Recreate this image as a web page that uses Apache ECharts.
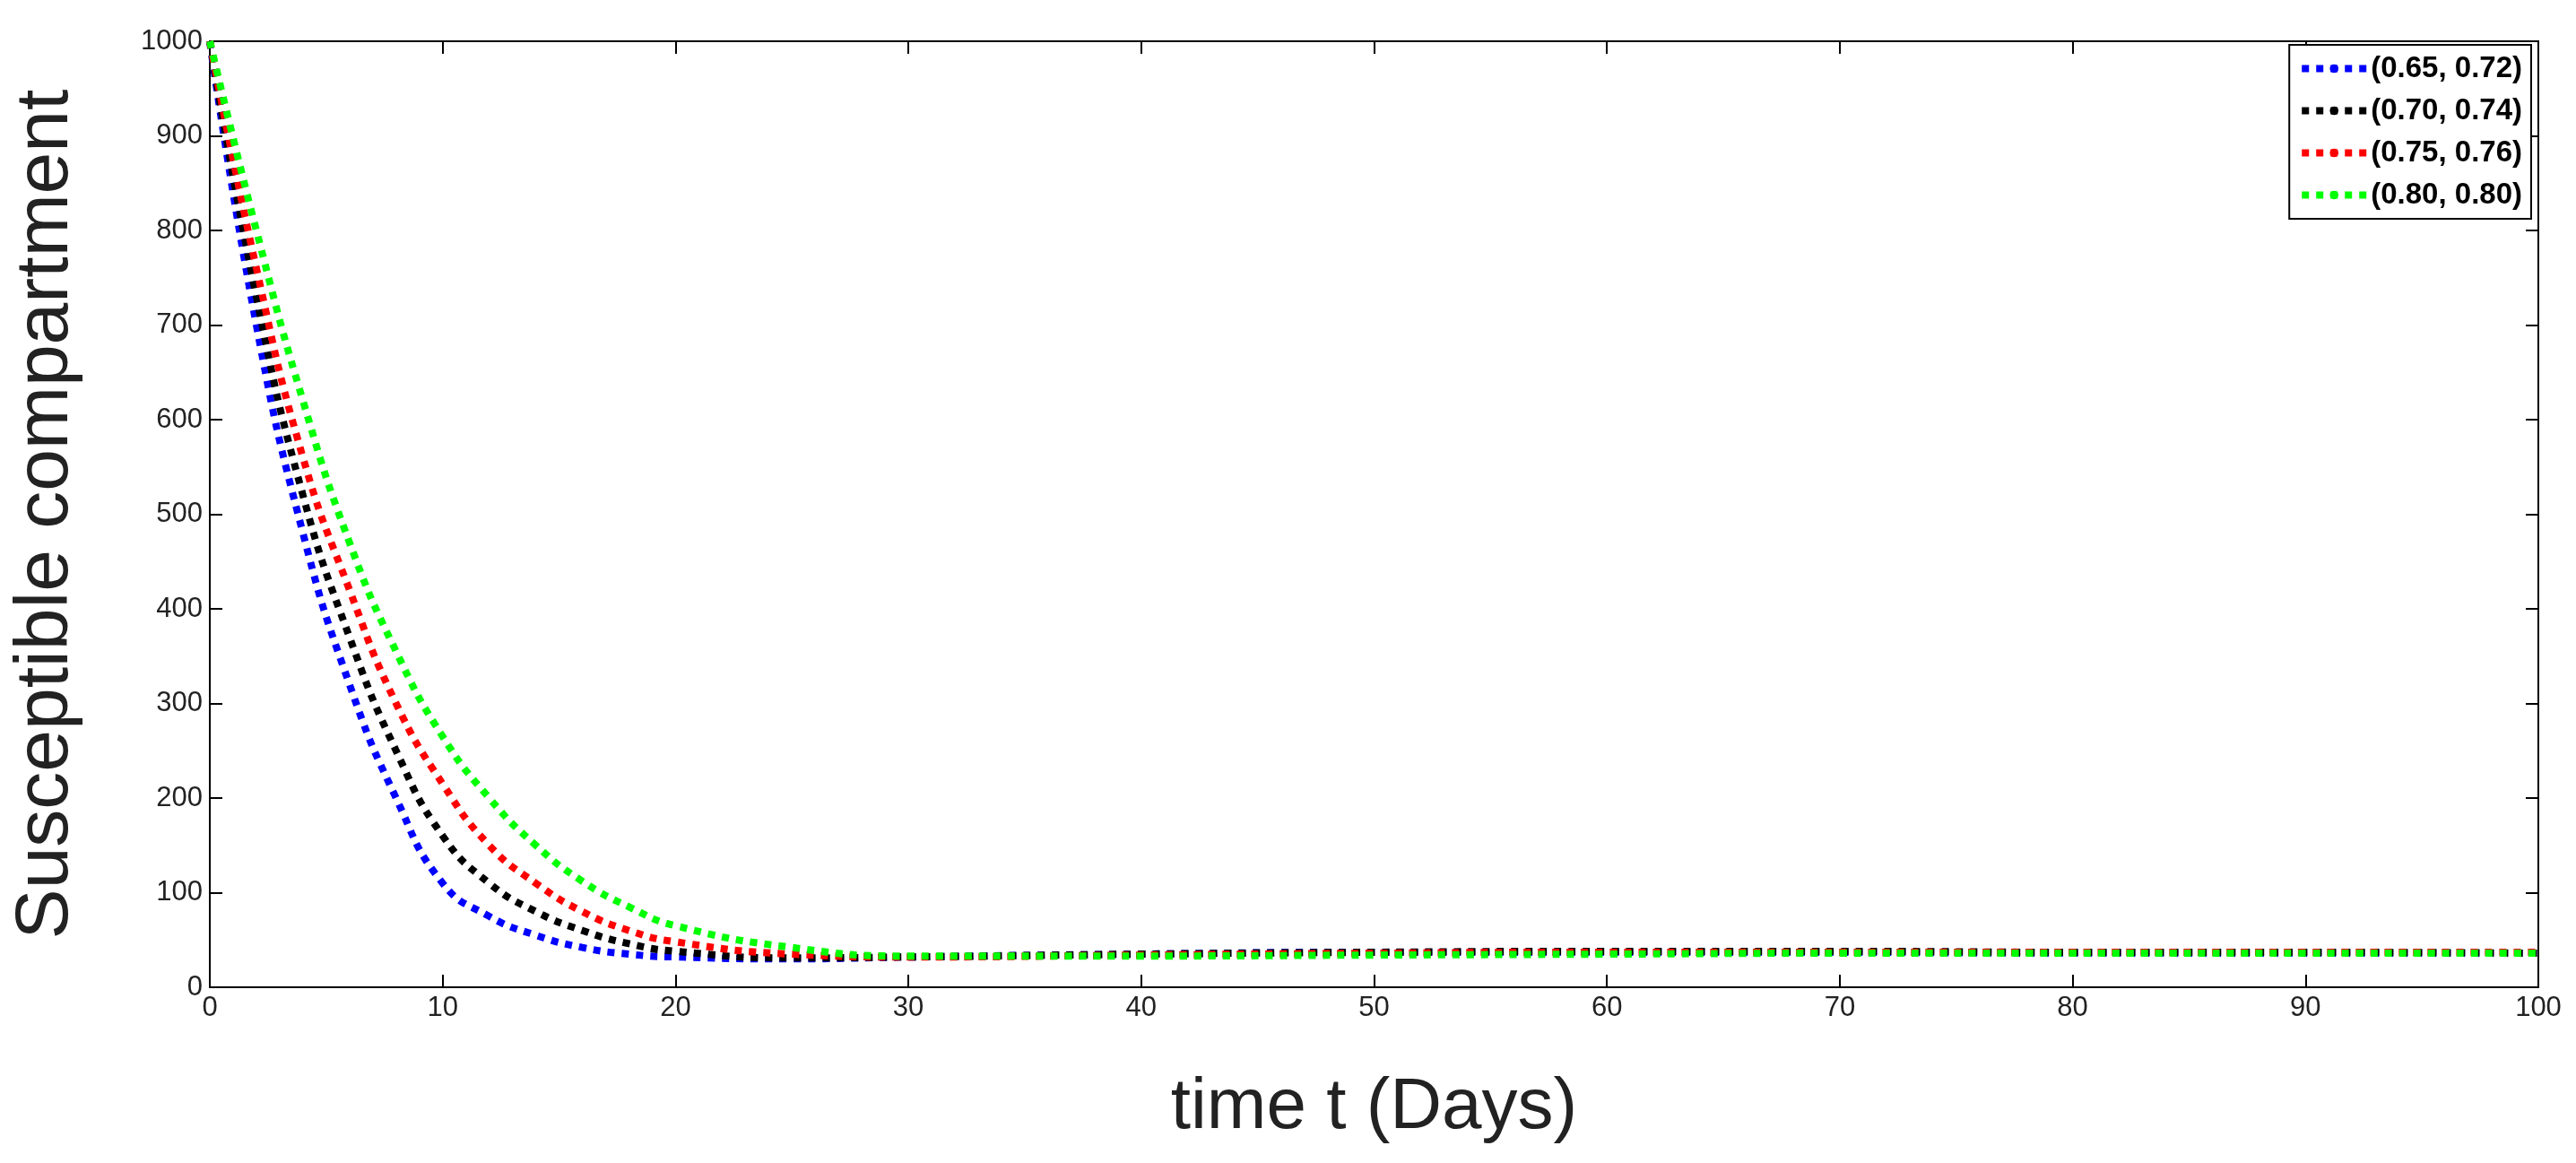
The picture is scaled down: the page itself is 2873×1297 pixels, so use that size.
<!DOCTYPE html>
<html><head><meta charset="utf-8">
<script src="https://cdn.jsdelivr.net/npm/echarts@6/dist/echarts.min.js"></script>
<style>html,body{margin:0;background:#fff}#c{width:2873px;height:1297px}</style>
</head><body><div id="c"></div>
<script>
const days = [0, 2, 4, 6, 8, 10, 12, 14, 16, 18, 20, 25, 30, 40, 50, 60, 70, 80, 90, 100];
const blue  = [1000, 700, 480, 320, 200, 110, 75, 55, 42, 35, 32, 30, 32, 35, 37, 37, 37, 36, 36, 36];
const black = [1000, 730, 520, 370, 250, 160, 110, 80, 60, 46, 38, 31, 32, 35, 37, 38, 38, 37, 37, 36];
const red   = [1000, 760, 560, 420, 300, 215, 150, 110, 80, 60, 48, 35, 32, 34, 36, 37, 37, 37, 37, 37];
const green = [1000, 800, 620, 470, 355, 265, 200, 150, 112, 85, 65, 42, 33, 33, 34, 35, 36, 36, 36, 36];
const names = ['(0.65, 0.72)', '(0.70, 0.74)', '(0.75, 0.76)', '(0.80, 0.80)'];
const colors = ['#0000ff', '#000000', '#ff0000', '#00ff00'];

const chart = echarts.init(document.getElementById('c'));
const font = 'Liberation Sans, Arial, sans-serif';
const axisCommon = {
  axisLine: { onZero: false, lineStyle: { color: '#000', width: 2 } },
  axisTick: { inside: true, length: 14, lineStyle: { color: '#000', width: 2 } },
  axisLabel: { color: '#222', fontSize: 31, fontFamily: font, formatter: v => String(v) },
  splitLine: { show: false },
  nameLocation: 'middle'
};
const boxAxis = (extra) => Object.assign({}, axisCommon, { axisLabel: { show: false } }, extra);
chart.setOption({
  animation: false,
  grid: { left: 234, right: 42, top: 46, bottom: 196 },
  legend: {
    right: 50, top: 50, orient: 'vertical', itemWidth: 72, itemHeight: 12, itemGap: 14,
    backgroundColor: '#fff', borderColor: '#000', borderWidth: 2, padding: [10, 10, 10, 10],
    textStyle: { fontSize: 33, fontWeight: 'bold', fontFamily: font, color: '#000' },
    lineStyle: { width: 8, type: [8, 8] },
    data: names
  },
  xAxis: [
    Object.assign({}, axisCommon, {
      type: 'value', min: 0, max: 100, interval: 10, name: 'time t (Days)', nameGap: 95,
      nameTextStyle: { color: '#222', fontSize: 80, fontFamily: font }
    }),
    boxAxis({ type: 'value', position: 'top', min: 0, max: 100, interval: 10 })
  ],
  yAxis: [
    Object.assign({}, axisCommon, {
      type: 'value', min: 0, max: 1000, interval: 100,
      name: 'Susceptible compartment', nameGap: 140,
      nameTextStyle: { color: '#222', fontSize: 84, fontFamily: font }
    }),
    boxAxis({ type: 'value', position: 'right', min: 0, max: 1000, interval: 100 })
  ],
  series: [blue, black, red, green].map((vals, i) => ({
    name: names[i], type: 'line', smooth: true, symbol: 'none',
    data: days.map((d, j) => [d, vals[j]]),
    color: colors[i],
    lineStyle: { color: colors[i], width: 8, type: [8, 8] }
  }))
});
</script></body></html>
